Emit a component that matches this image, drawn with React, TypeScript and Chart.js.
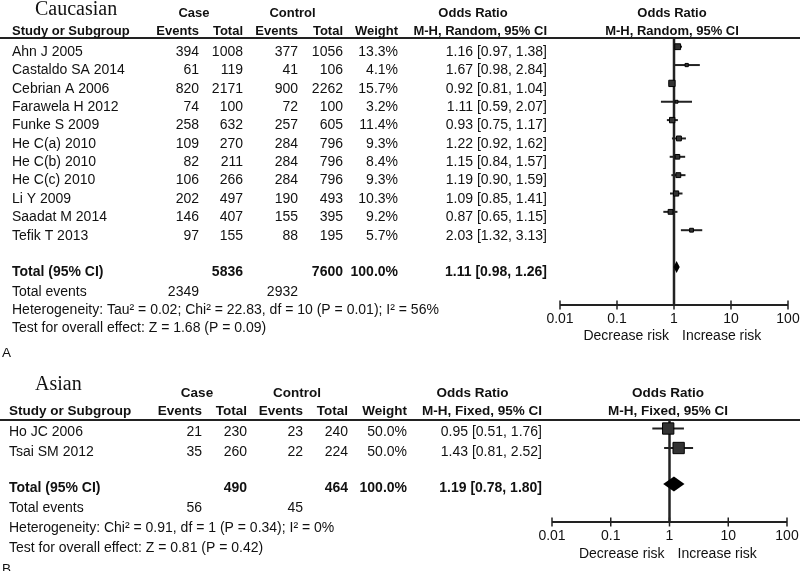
import React, { useEffect, useRef } from "react";
import { Chart, registerables } from "chart.js";

Chart.register(...registerables);

// ===== Panel A: Caucasian (M-H, Random, 95% CI) =====
const studiesA = ["Ahn J 2005", "Castaldo SA 2014", "Cebrian A 2006", "Farawela H 2012", "Funke S 2009", "He C(a) 2010", "He C(b) 2010", "He C(c) 2010", "Li Y 2009", "Saadat M 2014", "Tefik T 2013"];
const caseEventsA = [394, 61, 820, 74, 258, 109, 82, 106, 202, 146, 97];
const caseTotalA = [1008, 119, 2171, 100, 632, 270, 211, 266, 497, 407, 155];
const ctrlEventsA = [377, 41, 900, 72, 257, 284, 284, 284, 190, 155, 88];
const ctrlTotalA = [1056, 106, 2262, 100, 605, 796, 796, 796, 493, 395, 195];
const weightA = [13.3, 4.1, 15.7, 3.2, 11.4, 9.3, 8.4, 9.3, 10.3, 9.2, 5.7];
const orA = [1.16, 1.67, 0.92, 1.11, 0.93, 1.22, 1.15, 1.19, 1.09, 0.87, 2.03];
const lowerA = [0.97, 0.98, 0.81, 0.59, 0.75, 0.92, 0.84, 0.90, 0.85, 0.65, 1.32];
const upperA = [1.38, 2.84, 1.04, 2.07, 1.17, 1.62, 1.57, 1.59, 1.41, 1.15, 3.13];
const pooledA = [1.11, 0.98, 1.26]; // OR, lower, upper
const totalsA = [5836, 7600];
const totalWeightA = 100.0;
const totalEventsA = [2349, 2932];
const hetA = "Heterogeneity: Tau\u00B2 = 0.02; Chi\u00B2 = 22.83, df = 10 (P = 0.01); I\u00B2 = 56%";
const overallA = "Test for overall effect: Z = 1.68 (P = 0.09)";

// ===== Panel B: Asian (M-H, Fixed, 95% CI) =====
const studiesB = ["Ho JC 2006", "Tsai SM 2012"];
const caseEventsB = [21, 35];
const caseTotalB = [230, 260];
const ctrlEventsB = [23, 22];
const ctrlTotalB = [240, 224];
const weightB = [50.0, 50.0];
const orB = [0.95, 1.43];
const lowerB = [0.51, 0.81];
const upperB = [1.76, 2.52];
const pooledB = [1.19, 0.78, 1.80];
const totalsB = [490, 464];
const totalWeightB = 100.0;
const totalEventsB = [56, 45];
const hetB = "Heterogeneity: Chi\u00B2 = 0.91, df = 1 (P = 0.34); I\u00B2 = 0%";
const overallB = "Test for overall effect: Z = 0.81 (P = 0.42)";

// ===== Axis =====
const tickValues = [0.01, 0.1, 1, 10, 100];
const tickLabels = ["0.01", "0.1", "1", "10", "100"];
const decreaseLabel = "Decrease risk";
const increaseLabel = "Increase risk";

const INK = "#111";
const LINE = "#222";
const SANS = "'Liberation Sans', Arial, sans-serif";
const SERIF = "'Liberation Serif', 'Times New Roman', serif";

type PanelData = {
  title: string; method: string; letter: string;
  studies: string[]; caseEvents: number[]; caseTotal: number[]; ctrlEvents: number[]; ctrlTotal: number[];
  weight: number[]; or: number[]; lower: number[]; upper: number[];
  pooled: number[]; totals: number[]; totalWeight: number; totalEvents: number[];
  het: string; overall: string;
};

type Layout = {
  left: number; right: number; top: number; bottom: number;
  firstRowY: number; rowH: number; totalRow: number; textDy: number;
  titleX: number; titleBase: number; titleSize: number;
  h1: number; h2: number; headSize: number; bodySize: number;
  nameX: number; cols: number[];
  caseC: number; ctrlC: number; orHeadC: number; forestC: number;
  footer: number[]; letterX: number;
  sq: number; diamondH: number; axisLab: number; riskLab: number;
};

const panelA: PanelData = {
  title: "Caucasian", method: "M-H, Random, 95% CI", letter: "A",
  studies: studiesA, caseEvents: caseEventsA, caseTotal: caseTotalA, ctrlEvents: ctrlEventsA, ctrlTotal: ctrlTotalA,
  weight: weightA, or: orA, lower: lowerA, upper: upperA,
  pooled: pooledA, totals: totalsA, totalWeight: totalWeightA, totalEvents: totalEventsA, het: hetA, overall: overallA,
};
const panelB: PanelData = {
  title: "Asian", method: "M-H, Fixed, 95% CI", letter: "B",
  studies: studiesB, caseEvents: caseEventsB, caseTotal: caseTotalB, ctrlEvents: ctrlEventsB, ctrlTotal: ctrlTotalB,
  weight: weightB, or: orB, lower: lowerB, upper: upperB,
  pooled: pooledB, totals: totalsB, totalWeight: totalWeightB, totalEvents: totalEventsB, het: hetB, overall: overallB,
};

const layoutA: Layout = {
  left: 560, right: 788, top: 38, bottom: 305, firstRowY: 46.7, rowH: 18.35, totalRow: 12, textDy: 4.3,
  titleX: 35, titleBase: 15, titleSize: 20, h1: 12.3, h2: 30.5, headSize: 13, bodySize: 14,
  nameX: 12, cols: [199, 243, 298, 343, 398, 547],
  caseC: 194, ctrlC: 292.5, orHeadC: 473, forestC: 672,
  footer: [19.5, 37.5, 56, 80.5], letterX: 2,
  sq: 1.6, diamondH: 6, axisLab: 12.5, riskLab: 30,
};
const layoutB: Layout = {
  left: 552, right: 787, top: 420, bottom: 522, firstRowY: 428.5, rowH: 19.5, totalRow: 2.85, textDy: 2.5,
  titleX: 35, titleBase: 390, titleSize: 20, h1: 392.5, h2: 410.5, headSize: 13.5, bodySize: 14,
  nameX: 9, cols: [202, 247, 303, 348, 407, 542],
  caseC: 197, ctrlC: 297, orHeadC: 472.5, forestC: 668,
  footer: [20, 40, 60, 82], letterX: 2,
  sq: 1.6, diamondH: 7.5, axisLab: 13, riskLab: 31,
};

function txt(ctx: CanvasRenderingContext2D, s: string, x: number, yc: number, align: CanvasTextAlign, size: number, bold = false, family = SANS) {
  ctx.font = `${bold ? "bold " : ""}${size}px ${family}`;
  ctx.textAlign = align;
  ctx.textBaseline = "alphabetic";
  ctx.fillStyle = INK;
  ctx.fillText(s, x, yc + size * 0.36);
}

const fmtCI = (o: number, l: number, u: number) => `${o.toFixed(2)} [${l.toFixed(2)}, ${u.toFixed(2)}]`;

function makePlugin(d: PanelData, L: Layout) {
  return {
    id: "forest" + d.letter,
    beforeDatasetsDraw(chart: any) {
      const ctx: CanvasRenderingContext2D = chart.ctx;
      const xs = chart.scales.x;
      const { top, bottom } = chart.chartArea;
      ctx.save();
      ctx.strokeStyle = LINE;
      ctx.lineWidth = 2;
      // header rule
      ctx.beginPath(); ctx.moveTo(0, top); ctx.lineTo(chart.width, top); ctx.stroke();
      // line of no effect
      const x1 = xs.getPixelForValue(1);
      ctx.lineWidth = 2.5;
      ctx.beginPath(); ctx.moveTo(x1, top); ctx.lineTo(x1, bottom); ctx.stroke();
      // axis
      ctx.lineWidth = 2;
      const xa = xs.getPixelForValue(tickValues[0]);
      const xb = xs.getPixelForValue(tickValues[tickValues.length - 1]);
      ctx.beginPath(); ctx.moveTo(xa, bottom); ctx.lineTo(xb, bottom); ctx.stroke();
      ctx.lineWidth = 1.5;
      tickValues.forEach((v, i) => {
        const px = xs.getPixelForValue(v);
        ctx.beginPath(); ctx.moveTo(px, bottom - 4.5); ctx.lineTo(px, bottom + 4.5); ctx.stroke();
        txt(ctx, tickLabels[i], px, bottom + L.axisLab, "center", L.bodySize);
      });
      txt(ctx, decreaseLabel, x1 - 5, bottom + L.riskLab, "right", L.bodySize);
      txt(ctx, increaseLabel, x1 + 8, bottom + L.riskLab, "left", L.bodySize);
      ctx.restore();
    },
    afterDatasetsDraw(chart: any) {
      const ctx: CanvasRenderingContext2D = chart.ctx;
      const xs = chart.scales.x;
      const ys = chart.scales.y;
      const y = ys.getPixelForValue(L.totalRow);
      const xc = xs.getPixelForValue(d.pooled[0]);
      const xl = xs.getPixelForValue(d.pooled[1]);
      const xr = xs.getPixelForValue(d.pooled[2]);
      ctx.save();
      ctx.fillStyle = "#000";
      ctx.beginPath();
      ctx.moveTo(xl, y); ctx.lineTo(xc, y - L.diamondH); ctx.lineTo(xr, y); ctx.lineTo(xc, y + L.diamondH);
      ctx.closePath(); ctx.fill();
      ctx.restore();
    },
    afterDraw(chart: any) {
      const ctx: CanvasRenderingContext2D = chart.ctx;
      const ys = chart.scales.y;
      const C = L.cols;
      ctx.save();
      // title
      ctx.font = `${L.titleSize}px ${SERIF}`;
      ctx.textAlign = "left"; ctx.textBaseline = "alphabetic"; ctx.fillStyle = INK;
      ctx.fillText(d.title, L.titleX, L.titleBase);
      // header row 1
      const hs = L.headSize;
      txt(ctx, "Case", L.caseC, L.h1, "center", hs, true);
      txt(ctx, "Control", L.ctrlC, L.h1, "center", hs, true);
      txt(ctx, "Odds Ratio", L.orHeadC, L.h1, "center", hs, true);
      txt(ctx, "Odds Ratio", L.forestC, L.h1, "center", hs, true);
      // header row 2
      txt(ctx, "Study or Subgroup", L.nameX, L.h2, "left", hs, true);
      txt(ctx, "Events", C[0], L.h2, "right", hs, true);
      txt(ctx, "Total", C[1], L.h2, "right", hs, true);
      txt(ctx, "Events", C[2], L.h2, "right", hs, true);
      txt(ctx, "Total", C[3], L.h2, "right", hs, true);
      txt(ctx, "Weight", C[4], L.h2, "right", hs, true);
      txt(ctx, d.method, C[5], L.h2, "right", hs, true);
      txt(ctx, d.method, L.forestC, L.h2, "center", hs, true);
      // study rows
      const bs = L.bodySize;
      d.studies.forEach((s, i) => {
        const y = ys.getPixelForValue(i) + L.textDy;
        txt(ctx, s, L.nameX, y, "left", bs);
        txt(ctx, String(d.caseEvents[i]), C[0], y, "right", bs);
        txt(ctx, String(d.caseTotal[i]), C[1], y, "right", bs);
        txt(ctx, String(d.ctrlEvents[i]), C[2], y, "right", bs);
        txt(ctx, String(d.ctrlTotal[i]), C[3], y, "right", bs);
        txt(ctx, d.weight[i].toFixed(1) + "%", C[4], y, "right", bs);
        txt(ctx, fmtCI(d.or[i], d.lower[i], d.upper[i]), C[5], y, "right", bs);
      });
      // total row
      const yt = ys.getPixelForValue(L.totalRow) + L.textDy;
      txt(ctx, "Total (95% CI)", L.nameX, yt, "left", bs, true);
      txt(ctx, String(d.totals[0]), C[1], yt, "right", bs, true);
      txt(ctx, String(d.totals[1]), C[3], yt, "right", bs, true);
      txt(ctx, d.totalWeight.toFixed(1) + "%", C[4], yt, "right", bs, true);
      txt(ctx, fmtCI(d.pooled[0], d.pooled[1], d.pooled[2]), C[5], yt, "right", bs, true);
      // footer
      const yE = yt + L.footer[0];
      txt(ctx, "Total events", L.nameX, yE, "left", bs);
      txt(ctx, String(d.totalEvents[0]), C[0], yE, "right", bs);
      txt(ctx, String(d.totalEvents[1]), C[2], yE, "right", bs);
      txt(ctx, d.het, L.nameX, yt + L.footer[1], "left", bs);
      txt(ctx, d.overall, L.nameX, yt + L.footer[2], "left", bs);
      txt(ctx, d.letter, L.letterX, yt + L.footer[3], "left", bs - 0.5);
      ctx.restore();
    },
  };
}

function ForestPanel({ d, L }: { d: PanelData; L: Layout }) {
  const ref = useRef<HTMLCanvasElement>(null);
  useEffect(() => {
    const canvas = ref.current;
    if (!canvas) return;
    const yMin = -(L.firstRowY - L.top) / L.rowH;
    const yMax = yMin + (L.bottom - L.top) / L.rowH;
    const whiskers = d.studies.map((_, i) => ({
      label: "ci" + i,
      data: [{ x: d.lower[i], y: i }, { x: d.upper[i], y: i }],
      showLine: true,
      borderColor: LINE,
      borderWidth: 2,
      pointRadius: 0,
    }));
    const squares = {
      label: "or",
      data: d.or.map((v, i) => ({ x: v, y: i })),
      pointStyle: "rect",
      pointRadius: d.weight.map((w) => (L.sq * Math.sqrt(w)) / Math.SQRT2),
      backgroundColor: "#333",
      borderColor: "#000",
      borderWidth: 1,
    };
    const chart = new Chart(canvas, {
      type: "scatter",
      data: { datasets: [squares as any, ...whiskers] },
      options: {
        responsive: false,
        animation: false,
        devicePixelRatio: 1,
        events: [],
        layout: { padding: { left: L.left, right: 800 - L.right, top: L.top, bottom: 571 - L.bottom } },
        plugins: { legend: { display: false }, tooltip: { enabled: false }, title: { display: false } },
        scales: {
          x: { type: "logarithmic", min: tickValues[0], max: tickValues[tickValues.length - 1], display: false },
          y: { type: "linear", min: yMin, max: yMax, reverse: true, display: false },
        },
      },
      plugins: [makePlugin(d, L)],
    });
    return () => chart.destroy();
  }, []);
  return (
    <canvas
      ref={ref}
      width={800}
      height={571}
      style={{ position: "absolute", left: 0, top: 0, width: 800, height: 571 }}
    />
  );
}

export default function App() {
  return (
    <div style={{ position: "absolute", left: 0, top: 0, width: 800, height: 571, background: "#fff", overflow: "hidden" }}>
      <ForestPanel d={panelA} L={layoutA} />
      <ForestPanel d={panelB} L={layoutB} />
    </div>
  );
}
